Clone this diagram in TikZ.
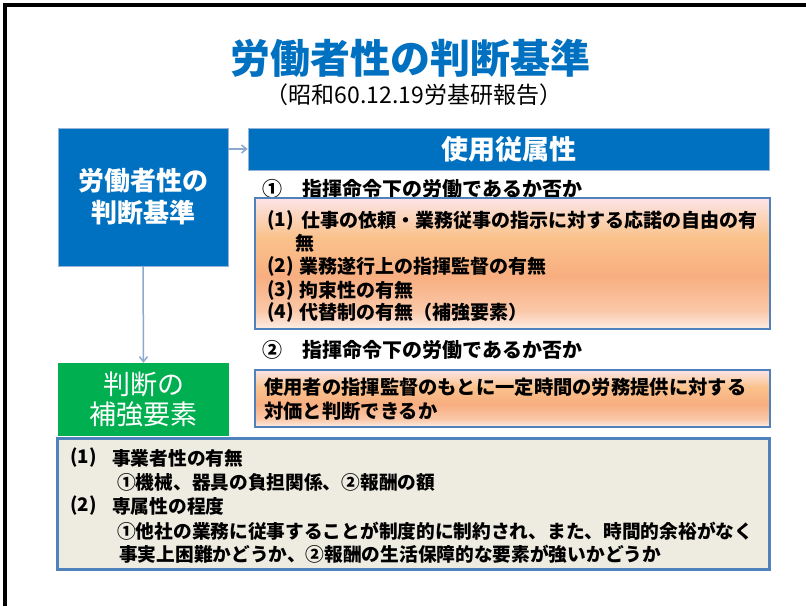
\documentclass[tikz,border=0pt]{standalone}
\usepackage{fontspec}
\setmainfont{Noto Sans CJK JP}
\usetikzlibrary{arrows.meta}
\definecolor{tblue}{HTML}{0070C0}
\definecolor{tgreen}{HTML}{00B050}
\definecolor{bord}{HTML}{4F81BD}
\definecolor{beige}{HTML}{EEECE1}
\definecolor{arrc}{HTML}{8EA9CF}
\definecolor{oA}{HTML}{FDEEE6}
\definecolor{oB}{HTML}{FAC8A8}
\definecolor{oC}{HTML}{F8AE80}
\definecolor{oD}{HTML}{FAC28C}
\definecolor{oE}{HTML}{FBD5BC}
\definecolor{oF}{HTML}{FCE4E8}
\pgfdeclareverticalshading{orangeshade}{100bp}{color(0bp)=(oA); color(25bp)=(oA); color(32bp)=(oB); color(45bp)=(oC); color(60bp)=(oD); color(68bp)=(oE); color(75bp)=(oF); color(100bp)=(oF)}
\tikzset{
  txt/.style={inner sep=0pt, anchor=west, text=black},
  fs/.style={font=\fontsize{#1}{#1}\selectfont},
  fsb/.style={font=\fontsize{#1}{#1}\selectfont\bfseries},
  bluebox/.style={fill=tblue, draw=bord!60, line width=0.6pt, inner sep=0pt, text=white, align=center},
  obox/.style={shading=orangeshade, draw=bord, line width=2pt, inner sep=0pt},
  arr/.style={draw=arrc, line width=1.5pt, -{Straight Barb[length=5pt,width=8pt]}},
}
\begin{document}
\begin{tikzpicture}[x=1pt,y=-1pt]
\useasboundingbox (0,0) rectangle (806,606);
\fill[white] (0,0) rectangle (806,606);
\draw[line width=3.5pt] (5,606) -- (5,5) -- (806,5);

% title
\node[inner sep=0pt, fsb=40, text=tblue] (title) at (410,58) {労働者性の判断基準};
\node[inner sep=0pt, fs=23] (sub) at (414,95) {（昭和60.12.19労基研報告）};

% left blue box
\node[bluebox, minimum width=170pt, minimum height=138pt, font=\fontsize{26}{32}\selectfont\bfseries] (lb) at (143,197) {労働者性の\\判断基準};

% header
\node[bluebox, minimum width=521pt, minimum height=42pt, fsb=27] (hd) at (508.5,149) {使用従属性};
\draw[arr] (lb.east |- hd) -- (hd.west);

% row 1
\node[txt, fsb=20] (r1) at (262,189) {①\hspace{20pt}指揮命令下の労働であるか否か};

% box 1
\node[obox, minimum width=515pt, minimum height=131pt] (b1) at (512.5,263.5) {};
\node[txt, fsb=19] (b1n1) at (267,220) {(1)};
\node[txt, fsb=19] (b1t1) at (301,220) {仕事の依頼・業務従事の指示に対する応諾の自由の有};
\node[txt, fsb=19] (b1t1b) at (295,243) {無};
\node[txt, fsb=19] (b1n2) at (267,266) {(2)};
\node[txt, fsb=19] (b1t2) at (299,266) {業務遂行上の指揮監督の有無};
\node[txt, fsb=19] (b1n3) at (267,290) {(3)};
\node[txt, fsb=19] (b1t3) at (299,290) {拘束性の有無};
\node[txt, fsb=19] (b1n4) at (267,312) {(4)};
\node[txt, fsb=19] (b1t4) at (299,312) {代替制の有無（補強要素）};

% row 2
\node[txt, fsb=20] (r2) at (262,350) {②\hspace{20pt}指揮命令下の労働であるか否か};

% box 2
\node[obox, minimum width=515pt, minimum height=57pt] (b2) at (512.5,398.5) {};
\node[txt, fsb=19.3] (b2t1) at (264,387) {使用者の指揮監督のもとに一定時間の労務提供に対する};
\node[txt, fsb=19.3] (b2t2) at (264,411) {対価と判断できるか};

% green box
\node[fill=tgreen, inner sep=0pt, text=white, align=center, minimum width=171pt, minimum height=73pt, font=\fontsize{27}{30}\selectfont] (gb) at (143.5,399.5) {判断の\\補強要素};
\draw[arr] (lb.south) -- (gb.north);

% bottom box
\node[fill=beige, draw=bord, line width=3pt, inner sep=0pt, minimum width=712pt, minimum height=131pt] (bb) at (413,503.5) {};
\node[txt, fsb=18.7] (bbn1) at (70,458) {(1)};
\node[txt, fsb=18.7] (bbt1) at (112,458) {事業者性の有無};
\node[txt, fsb=18.7] (bbt2) at (117,482) {①機械、器具の負担関係、②報酬の額};
\node[txt, fsb=18.7] (bbn2) at (70,506) {(2)};
\node[txt, fsb=18.7] (bbt3) at (112,506) {専属性の程度};
\node[txt, fsb=18.7] (bbt4) at (117,531) {①他社の業務に従事することが制度的に制約され、また、時間的余裕がなく};
\node[txt, fsb=18.7] (bbt5) at (119,554) {事実上困難かどうか、②報酬の生活保障的な要素が強いかどうか};
\end{tikzpicture}
\end{document}
